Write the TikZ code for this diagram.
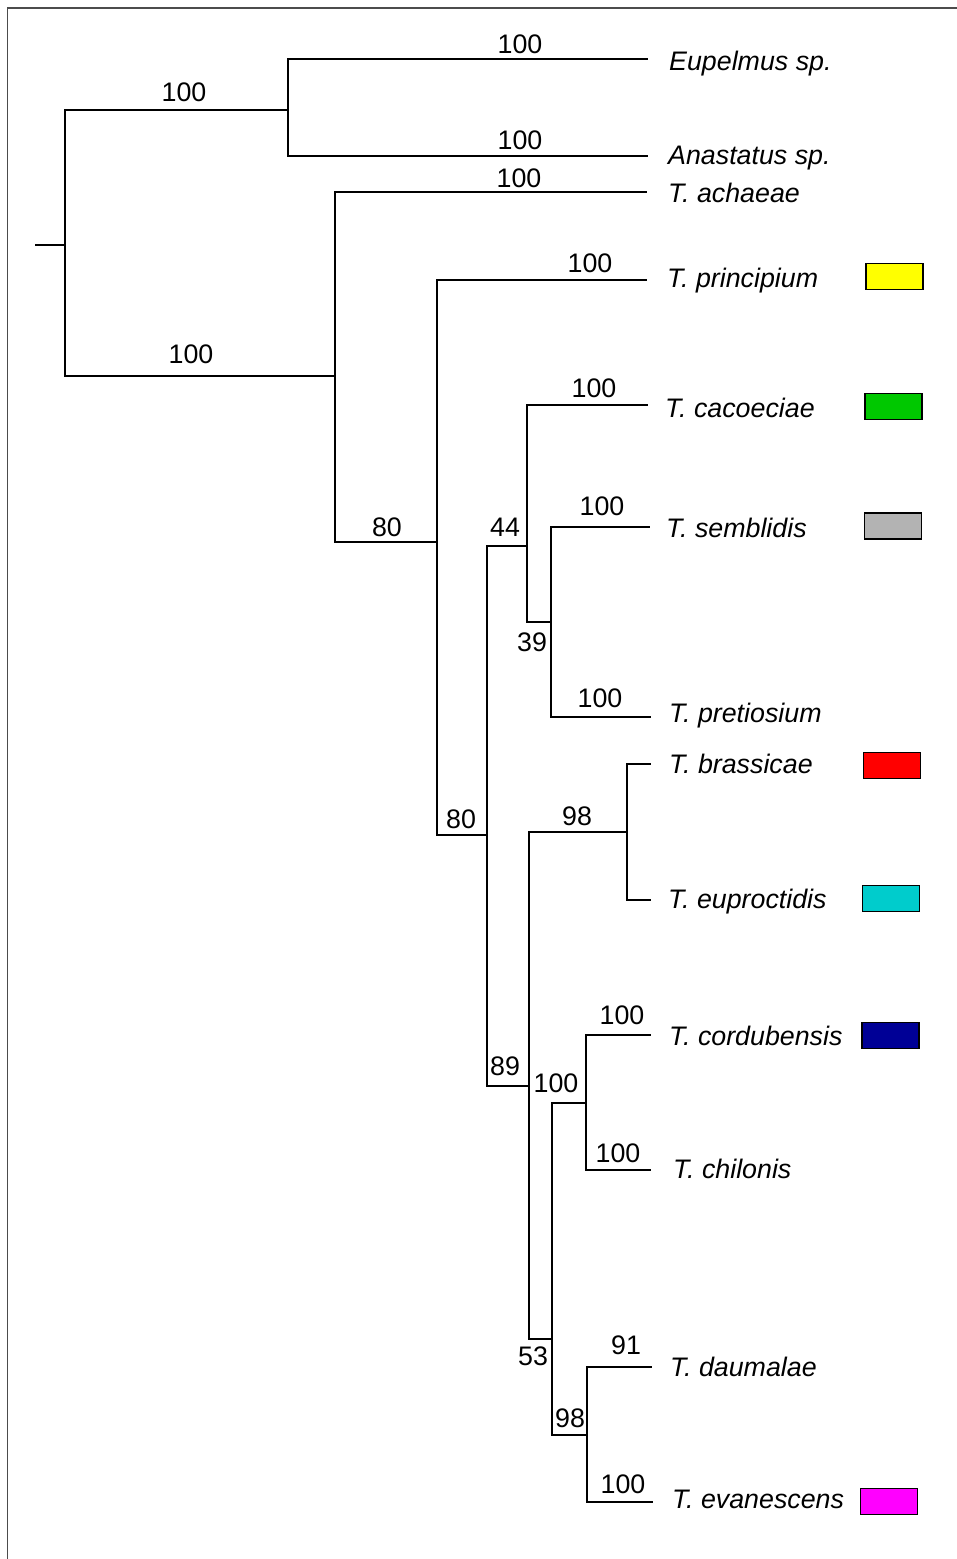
\documentclass[tikz,border=0pt]{standalone}
\usepackage{fontspec}
\setmainfont{Liberation Sans}
\definecolor{cyel}{HTML}{FFFF00}
\definecolor{cgrn}{HTML}{00C800}
\definecolor{cgry}{HTML}{B3B3B3}
\definecolor{cred}{HTML}{FF0000}
\definecolor{ccyn}{HTML}{00CCCC}
\definecolor{cnav}{HTML}{000096}
\definecolor{cmag}{HTML}{FF00FF}
\begin{document}
\begin{tikzpicture}[x=1pt,y=-1pt,
  br/.style={line width=1.7pt, line cap=rect},
  frm/.style={line width=1.4pt, draw=black!70},
  sup/.style={anchor=base, inner sep=0pt, font=\fontsize{26.8}{30}\selectfont},
  taxon/.style={anchor=base west, inner sep=0pt, font=\fontsize{26.8}{30}\selectfont\itshape},
  swatch/.style={draw=black, line width=1.6pt, minimum width=57pt, minimum height=26pt, inner sep=0pt}]
\useasboundingbox (0,0) rectangle (957,1559);
% frame (left and top edges)
\coordinate (fb) at (7.5,1559);
\coordinate (fc) at (7.5,8);
\coordinate (fr) at (957,8);
\draw[frm] (fb) -- (fc) -- (fr);
% internal nodes
\coordinate (stub) at (36,245);
\coordinate (R) at (65,245);
\coordinate (A) at (288,110);
\coordinate (B) at (335,376);
\coordinate (C) at (437,542);
\coordinate (D) at (487,835);
\coordinate (E) at (527,546);
\coordinate (F) at (551,622);
\coordinate (G) at (529,1086);
\coordinate (H) at (627,832);
\coordinate (I) at (552,1339);
\coordinate (J) at (586,1103);
\coordinate (K) at (587,1435);
% tips
\coordinate (t1) at (647,59);
\coordinate (t2) at (647,156);
\coordinate (t3) at (646,192);
\coordinate (t4) at (646,280);
\coordinate (t5) at (647,405);
\coordinate (t6) at (649,527);
\coordinate (t7) at (650,717);
\coordinate (t8) at (650,764);
\coordinate (t9) at (650,900);
\coordinate (t10) at (650,1035);
\coordinate (t11) at (650,1170);
\coordinate (t12) at (651,1367);
\coordinate (t13) at (652,1502);
% branches
\draw[br] (stub) -- (R);
\draw[br] (R) |- (A);
\draw[br] (R) |- (B);
\draw[br] (A) |- (t1);
\draw[br] (A) |- (t2);
\draw[br] (B) |- (t3);
\draw[br] (B) |- (C);
\draw[br] (C) |- (t4);
\draw[br] (C) |- (D);
\draw[br] (D) |- (E);
\draw[br] (D) |- (G);
\draw[br] (E) |- (t5);
\draw[br] (E) |- (F);
\draw[br] (F) |- (t6);
\draw[br] (F) |- (t7);
\draw[br] (G) |- (H);
\draw[br] (G) |- (I);
\draw[br] (H) |- (t8);
\draw[br] (H) |- (t9);
\draw[br] (I) |- (J);
\draw[br] (I) |- (K);
\draw[br] (J) |- (t10);
\draw[br] (J) |- (t11);
\draw[br] (K) |- (t12);
\draw[br] (K) |- (t13);
% support values
\node[sup] (sA) at (184,101) {100};
\node[sup] (sB) at (191,363) {100};
\node[sup] (s1) at (520,53) {100};
\node[sup] (s2) at (520,149) {100};
\node[sup] (s3) at (519,187) {100};
\node[sup] (sC) at (387,536) {80};
\node[sup] (s4) at (590,272) {100};
\node[sup] (sD) at (461,828) {80};
\node[sup] (sE) at (505,536) {44};
\node[sup] (s5) at (594,397) {100};
\node[sup] (sF) at (532,651) {39};
\node[sup] (s6) at (602,515) {100};
\node[sup] (s7) at (600,707) {100};
\node[sup] (sG) at (505,1075) {89};
\node[sup] (sH) at (577,825) {98};
\node[sup] (sI) at (533,1365) {53};
\node[sup] (sJ) at (556,1092) {100};
\node[sup] (s10) at (622,1024) {100};
\node[sup] (s11) at (618,1162) {100};
\node[sup] (sK) at (570,1427) {98};
\node[sup] (s12) at (626,1354) {91};
\node[sup] (s13) at (623,1493) {100};
% taxon names
\node[taxon] (n1) at (669,70) {Eupelmus sp.};
\node[taxon] (n2) at (668,164) {Anastatus sp.};
\node[taxon] (n3) at (668,202) {T. achaeae};
\node[taxon] (n4) at (667,287) {T. principium};
\node[taxon] (n5) at (665,417) {T. cacoeciae};
\node[taxon] (n6) at (666,537) {T. semblidis};
\node[taxon] (n7) at (669,722) {T. pretiosium};
\node[taxon] (n8) at (669,773) {T. brassicae};
\node[taxon] (n9) at (668,908) {T. euproctidis};
\node[taxon] (n10) at (669,1045) {T. cordubensis};
\node[taxon] (n11) at (673,1178) {T. chilonis};
\node[taxon] (n12) at (670,1376) {T. daumalae};
\node[taxon] (n13) at (672,1508) {T. evanescens};
% colour swatches
\node[swatch, fill=cyel] (c4) at (894.5,276.5) {};
\node[swatch, fill=cgrn] (c5) at (893.5,406.5) {};
\node[swatch, fill=cgry] (c6) at (893,526) {};
\node[swatch, fill=cred] (c8) at (892,765.5) {};
\node[swatch, fill=ccyn] (c9) at (891,898.5) {};
\node[swatch, fill=cnav] (c10) at (890.5,1035.5) {};
\node[swatch, fill=cmag] (c13) at (889,1501.5) {};
\end{tikzpicture}
\end{document}
